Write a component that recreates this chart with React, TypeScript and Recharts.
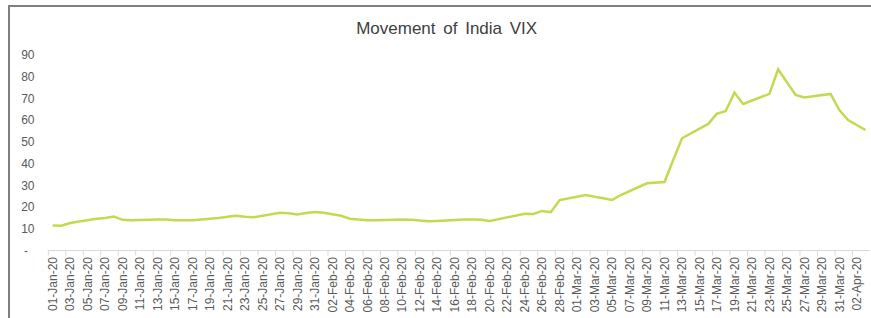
import React from "react";
import { LineChart, Line, XAxis, YAxis } from "recharts";

// India VIX close for each calendar day, null = market closed
const monthNames = ["Jan", "Feb", "Mar", "Apr"];
const janVix = [
  11.5, 11.4, 12.6, null, null, 14.6, 14.9, 15.6, 14.1, 13.9,
  null, null, 14.3, 14.2, 13.9, 13.9, 13.9, null, null, 14.9,
  15.5, 16.0, 15.5, 15.3, null, null, 17.4, 17.1, 16.6, 17.2,
  17.7,
];
const febVix = [
  17.4, null, 16.0, 14.6, 14.2, 13.9, 13.9, null, null, 14.2,
  14.1, 13.8, 13.4, 13.6, null, null, 14.3, 14.3, 14.1, 13.6,
  null, null, null, 16.9, 16.8, 18.2, 17.6, 23.2, null,
];
const marVix = [
  null, 25.5, 24.7, 24.0, 23.2, 25.5, null, null, 30.9, null,
  31.5, 41.6, 51.6, null, null, 58.2, 62.9, 64.1, 72.6, 67.4,
  null, null, 72.0, 83.3, 77.4, 71.5, 70.4, null, null, 72.0,
  64.6,
];
const aprVix = [60.0, null, 55.4];
const yTicks = [0, 10, 20, 30, 40, 50, 60, 70, 80, 90];

const data = [janVix, febVix, marVix, aprVix].flatMap((vals, m) =>
  vals.map((v, i) => ({
    date: `${String(i + 1).padStart(2, "0")}-${monthNames[m]}-20`,
    vix: v,
  }))
);

const W = 871;
const H = 318;
const PLOT_LEFT = 48.3;
const PLOT_RIGHT = 869.9;
const PLOT_TOP = 54.75;
const PLOT_BOTTOM = 250.5;
const XAXIS_H = 60;
const HALF = (PLOT_RIGHT - PLOT_LEFT) / data.length / 2;

const font = "'Liberation Sans', Arial, sans-serif";
const labelColor = "#595959";

function XTick({ x, payload }: any) {
  return (
    <g>
      <line
        x1={x - HALF}
        x2={x - HALF}
        y1={PLOT_BOTTOM}
        y2={PLOT_BOTTOM + 5}
        stroke="#d9d9d9"
      />
      <text
        transform={`translate(${x},${PLOT_BOTTOM + 6.5}) rotate(-90)`}
        textAnchor="end"
        dy={4.2}
        fontSize={12}
        fill={labelColor}
        fontFamily={font}
      >
        {payload.value}
      </text>
    </g>
  );
}

function YTick({ y, payload }: any) {
  if (payload.value === 0) {
    return (
      <text x={26} y={y} dy={4} textAnchor="middle" fontSize={12} fill={labelColor} fontFamily={font}>
        -
      </text>
    );
  }
  return (
    <text x={34.5} y={y} dy={4.3} textAnchor="end" fontSize={12} fill={labelColor} fontFamily={font}>
      {payload.value}
    </text>
  );
}

export default function App() {
  return (
    <div
      style={{
        position: "absolute",
        left: 0,
        top: 0,
        width: W,
        height: H,
        overflow: "hidden",
        background: "#fff",
        fontFamily: font,
      }}
    >
      <div
        style={{
          position: "absolute",
          left: 8,
          top: 5,
          width: 900,
          height: 400,
          borderTop: "2px solid #7f7f7f",
          borderLeft: "2px solid #7f7f7f",
        }}
      />
      <div
        style={{
          position: "absolute",
          left: 346.7,
          top: 19.2,
          width: 200,
          lineHeight: "20px",
          fontSize: 17,
          wordSpacing: 3,
          textAlign: "center",
          color: "#404040",
          whiteSpace: "nowrap",
        }}
      >
        Movement of India VIX
      </div>
      <div style={{ position: "absolute", left: 0, top: 0 }}>
        <LineChart
          width={W}
          height={H}
          data={data}
          margin={{
            top: PLOT_TOP,
            left: PLOT_LEFT - 40,
            right: W - PLOT_RIGHT,
            bottom: H - PLOT_BOTTOM - XAXIS_H,
          }}
        >
          <XAxis
            dataKey="date"
            scale="point"
            interval={1}
            height={XAXIS_H}
            tickLine={false}
            axisLine={{ stroke: "#d9d9d9" }}
            padding={{ left: HALF, right: HALF }}
            tick={<XTick />}
          />
          <YAxis
            width={40}
            domain={[0, 90]}
            ticks={yTicks}
            interval={0}
            axisLine={false}
            tickLine={false}
            tick={<YTick />}
          />
          <Line
            type="linear"
            dataKey="vix"
            stroke="#c3d94e"
            strokeWidth={2.5}
            dot={false}
            connectNulls
            isAnimationActive={false}
          />
        </LineChart>
      </div>
    </div>
  );
}
